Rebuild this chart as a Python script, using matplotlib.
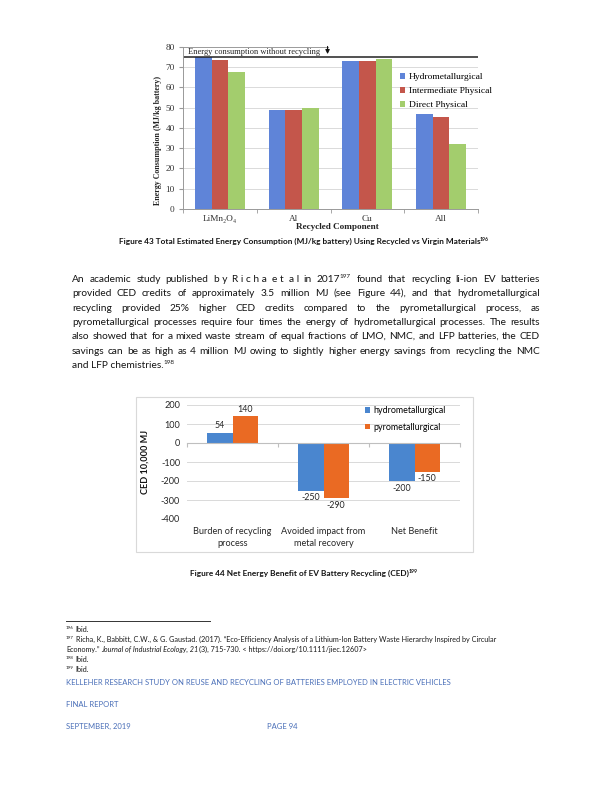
import numpy as np
import matplotlib
matplotlib.use('Agg')
import matplotlib.pyplot as plt
from matplotlib.patches import Rectangle
from matplotlib.transforms import blended_transform_factory

# page size in pixels
W, H = 612, 792
PX = 100 / 72.0

# Figure 43 data (MJ/kg battery)
comp_labels = ['LiMn₂O₄', 'Al', 'Cu', 'All']
hydro_mj = [75, 48.8, 72.9, 46.6]
inter_mj = [73.4, 49, 72.9, 45.2]
direct_mj = [67.3, 49.9, 73.7, 32]
no_recycling_mj = 75
mj_ticks = [0, 10, 20, 30, 40, 50, 60, 70, 80]
mj_series = ['Hydrometallurgical', 'Intermediate Physical', 'Direct Physical']

# Figure 44 data (CED 10,000 MJ)
ced_labels = ['Burden of recycling\nprocess', 'Avoided impact from\nmetal recovery', 'Net Benefit']
hydro_ced = [54, -250, -200]
pyro_ced = [140, -290, -150]
ced_ticks = [-400, -300, -200, -100, 0, 100, 200]
ced_series = ['hydrometallurgical', 'pyrometallurgical']

# page text
caption43 = "Figure 43  Total Estimated Energy Consumption (MJ/kg battery) Using Recycled vs Virgin Materials^196"
caption44 = "Figure 44  Net Energy Benefit of EV Battery Recycling (CED)^199"
para = [
    "An academic study published b_y R_i_c_h_a e_t a_l in 2017^197 found that recycling li-ion EV batteries",
    "provided CED credits of approximately 3.5 million MJ (see Figure 44), and that hydrometallurgical",
    "recycling provided 25% higher CED credits compared to the pyrometallurgical process, as",
    "pyrometallurgical processes require four times the energy of hydrometallurgical processes. The results",
    "also showed that for a mixed waste stream of equal fractions of LMO, NMC, and LFP batteries, the CED",
    "savings can be as high as 4 million MJ owing to slightly higher energy savings from recycling the NMC",
    "and LFP chemistries.^198",
]
footnotes = [
    "^196 Ibid.",
    "^197 Richa, K., Babbitt, C.W., & G. Gaustad. (2017). “Eco-Efficiency Analysis of a Lithium-Ion Battery Waste Hierarchy Inspired by Circular",
    "Economy.” *Journal of Industrial Ecology, 21*(3), 715-730. < https://doi.org/10.1111/jiec.12607>",
    "^198 Ibid.",
    "^199 Ibid.",
]
footer = ["KELLEHER RESEARCH STUDY ON REUSE AND RECYCLING OF BATTERIES EMPLOYED IN ELECTRIC VEHICLES",
          "FINAL REPORT", "SEPTEMBER, 2019", "PAGE 94"]

SANS = ['Lato', 'DejaVu Sans']
SERIF = ['Liberation Serif', 'DejaVu Serif']

fig = plt.figure(figsize=(6.12, 7.92), dpi=100)
fig.patch.set_facecolor('white')
renderer = fig.canvas.get_renderer()


def fx(x):
    return x / W


def fy(y):
    return 1 - y / H


_cache = {}


def text_width(s, **kw):
    key = (s, repr(sorted(kw.items())))
    if key not in _cache:
        t = fig.text(0, 0, s, **kw)
        _cache[key] = t.get_window_extent(renderer).width
        t.remove()
    return _cache[key]


def parse(line):
    # words -> list of (text, italic, superscript) parts
    words = []
    ital = False
    for tok in line.split(' '):
        parts, cur, sup = [], '', False
        for ch in tok:
            if ch in '*^':
                if cur:
                    parts.append((cur, ital, sup))
                    cur = ''
                if ch == '*':
                    ital = not ital
                else:
                    sup = True
            else:
                cur += ' ' if ch == '_' else ch
        if cur:
            parts.append((cur, ital, sup))
        words.append(parts)
    return words


def to_runs(words):
    runs = []
    for wi, w in enumerate(words):
        for pi, (s, i, sp) in enumerate(w):
            space = pi == 0 and wi > 0
            if runs and runs[-1][1] == i and runs[-1][2] == sp:
                runs[-1][0] += (' ' if space else '') + s
            else:
                runs.append([s, i, sp, space])
    return runs


def seg_kw(ital, sup, size, weight):
    return dict(fontsize=round(size * (0.62 if sup else 1.0), 3),
                fontstyle='italic' if ital else 'normal',
                fontweight=weight, family=SANS)


def word_width(parts, size, weight):
    return sum(text_width(s, **seg_kw(i, sp, size, weight)) for s, i, sp in parts)


def space_width(size, weight):
    kw = seg_kw(False, False, size, weight)
    return text_width('a a', **kw) - text_width('aa', **kw)


def natural_width(line, size, weight='normal'):
    runs = to_runs(parse(line))
    sw = space_width(size, weight)
    return sum(text_width(s, **seg_kw(i, sp, size, weight)) + (sw if spc else 0)
               for s, i, sp, spc in runs)


def put(x, y, s, ital, sup, size, weight, color, attached=False):
    kw = seg_kw(ital, sup, size, weight)
    yy = y - (size * PX * 0.38 if sup else 0)
    if sup and attached:
        x -= size * PX * 0.06
    fig.text(fx(x), fy(yy), s, va='baseline', ha='left', color=color, **kw)
    return text_width(s, **kw)


def draw_line(line, x, y, size, weight='normal', color='#141414', right=None):
    words = parse(line)
    if right is None:
        sw = space_width(size, weight)
        for k, (s, i, sp, spc) in enumerate(to_runs(words)):
            if spc:
                x += sw
            x += put(x, y, s, i, sp, size, weight, color, attached=(k > 0 and not spc))
        return
    total = sum(word_width(w, size, weight) for w in words)
    gap = (right - x - total) / (len(words) - 1)
    for w in words:
        for pi, (s, i, sp) in enumerate(w):
            x += put(x, y, s, i, sp, size, weight, color, attached=pi > 0)
        x += gap


# ---------------- Figure 43 ----------------
ax1 = fig.add_axes([fx(183), fy(209), (478 - 183) / W, (209 - 46.7) / H])
x = np.arange(len(comp_labels))
bw = 0.227
ax1.bar(x - bw, hydro_mj, bw, color='#5F84D8', label=mj_series[0])
ax1.bar(x, inter_mj, bw, color='#C4564B', label=mj_series[1])
ax1.bar(x + bw, direct_mj, bw, color='#A3CD6D', label=mj_series[2])
ax1.set_xlim(-0.5, len(comp_labels) - 0.5)
ax1.set_ylim(0, 80)
ax1.set_yticks(mj_ticks)
ax1.set_yticklabels([str(t) for t in mj_ticks], family=SERIF, fontsize=6.7, color='#333333')
ax1.set_xticks(x)
ax1.set_xticklabels(comp_labels, family=SERIF, fontsize=6.7, color='#333333')
ax1.set_xticks(np.arange(-0.5, len(comp_labels)), minor=True)
ax1.tick_params(axis='x', which='major', length=0, pad=4)
ax1.tick_params(axis='x', which='minor', length=3, color='#999999')
ax1.tick_params(axis='y', length=3, color='#999999', pad=3)
ax1.yaxis.grid(True, color='#d4d4d4', lw=0.6)
ax1.get_ygridlines()[-1].set_visible(False)
ax1.set_axisbelow(True)
for s in ['top', 'right']:
    ax1.spines[s].set_visible(False)
for s in ['left', 'bottom']:
    ax1.spines[s].set_color('#999999')
    ax1.spines[s].set_linewidth(0.7)
ax1.axhline(no_recycling_mj, color='#222222', lw=1.1)
tr = blended_transform_factory(ax1.transAxes, ax1.transData)
ax1.plot([0, 0.49], [80, 80], transform=tr, color='#8a8a8a', lw=0.6, clip_on=False)
ax1.text(0.017, 77.6, 'Energy consumption without recycling', transform=tr, family=SERIF,
         fontsize=6.0, va='center', ha='left', color='#222222')
ax1.annotate('', xy=(0.49, no_recycling_mj), xycoords=tr, xytext=(0.49, 81.5), textcoords=tr,
             arrowprops=dict(arrowstyle='-|>', color='#111111', lw=0.8, mutation_scale=6))
ax1.legend(loc='upper left', bbox_to_anchor=(fx(400), fy(73)), bbox_transform=fig.transFigure,
           frameon=False, prop={'family': SERIF, 'size': 6.8}, handlelength=0.55, handleheight=0.55,
           handletextpad=0.4, labelspacing=0.62, borderpad=0, borderaxespad=0)
fig.text(fx(337), fy(227), 'Recycled Component', family=SERIF, fontsize=6.6, fontweight='bold',
         ha='center', va='center', color='#222222')
fig.text(fx(158), fy(140), 'Energy Consumption (MJ/kg battery)', family=SERIF, fontsize=5.7,
         fontweight='bold', rotation=90, ha='center', va='center', color='#222222')

# ---------------- captions and paragraph ----------------
cap_size = 7.0 * 373 / natural_width(caption43, 7.0, 'bold')
draw_line(caption43, 304 - natural_width(caption43, cap_size, 'bold') / 2, 244, cap_size, 'bold')
draw_line(caption44, 304 - natural_width(caption44, cap_size, 'bold') / 2, 576, cap_size, 'bold')

p_size = 8.0 * 466 / max(natural_width(l, 8.0) for l in para[:-1])
para_y = [282, 296, 311, 325, 339, 354, 368]
for i, (line, yy) in enumerate(zip(para, para_y)):
    draw_line(line, 72, yy, p_size, right=None if i == len(para) - 1 else 540)

# ---------------- Figure 44 ----------------
fig.add_artist(Rectangle((fx(136), fy(552)), (473 - 136) / W, (552 - 397) / H,
                         transform=fig.transFigure, fill=False, edgecolor='#d9d9d9', lw=0.8))
ax2 = fig.add_axes([fx(187), fy(519), (460 - 187) / W, (519 - 405) / H])
x2 = np.arange(len(ced_labels))
bw2 = 0.28
b1 = ax2.bar(x2 - bw2 / 2, hydro_ced, bw2, color='#4A86CF', label=ced_series[0])
b2 = ax2.bar(x2 + bw2 / 2, pyro_ced, bw2, color='#EA6A23', label=ced_series[1])
for b in (b1, b2):
    ax2.bar_label(b, padding=2, fontsize=6.4, family=SANS, color='#262626')
ax2.set_xlim(-0.5, len(ced_labels) - 0.5)
ax2.set_ylim(-400, 200)
ax2.set_yticks(ced_ticks)
ax2.set_yticklabels([str(t) for t in ced_ticks], family=SANS, fontsize=6.6, color='#262626')
ax2.tick_params(axis='y', length=0, pad=5)
ax2.yaxis.grid(True, color='#d9d9d9', lw=0.7)
ax2.set_axisbelow(True)
for s in ['top', 'right', 'left']:
    ax2.spines[s].set_visible(False)
ax2.spines['bottom'].set_position(('data', 0))
ax2.spines['bottom'].set_color('#bfbfbf')
ax2.spines['bottom'].set_linewidth(0.8)
ax2.set_xticks(np.arange(-0.5, len(ced_labels)))
ax2.set_xticklabels([])
ax2.tick_params(axis='x', length=3, color='#bfbfbf', direction='out')
for i, lab in enumerate(ced_labels):
    ax2.annotate(lab, xy=(i, -400), xycoords='data', xytext=(0, -6), textcoords='offset points',
                 ha='center', va='top', family=SANS, fontsize=6.6, linespacing=1.45, color='#262626')
ax2.legend(loc='upper left', bbox_to_anchor=(fx(365), fy(406)), bbox_transform=fig.transFigure,
           frameon=False, prop={'family': SANS, 'size': 6.4}, handlelength=0.55, handleheight=0.55,
           handletextpad=0.35, labelspacing=0.85, borderpad=0, borderaxespad=0)
fig.text(fx(145), fy(462), 'CED 10,000 MJ', family=SANS, fontsize=6.6, fontweight='bold',
         rotation=90, ha='center', va='center', color='#141414')

# ---------------- footnotes and footer ----------------
fig.add_artist(plt.Line2D([fx(66), fx(210)], [fy(621), fy(621)], transform=fig.transFigure,
                          color='#333333', lw=0.7))
fn_size = 6.0 * (498 - 66) / natural_width(footnotes[1], 6.0)
for line, yy in zip(footnotes, [632, 642, 652, 662, 672]):
    draw_line(line, 66, yy, fn_size, color='#1a1a1a')
ft_size = 7.0 * (453 - 66) / natural_width(footer[0], 7.0)
blue = '#4A6FB8'
draw_line(footer[0], 66, 685, ft_size, color=blue)
draw_line(footer[1], 66, 707, ft_size, color=blue)
draw_line(footer[2], 66, 729, ft_size, color=blue)
draw_line(footer[3], 267, 729, ft_size, color=blue)

fig.savefig('out.png', dpi=100, facecolor='white')
